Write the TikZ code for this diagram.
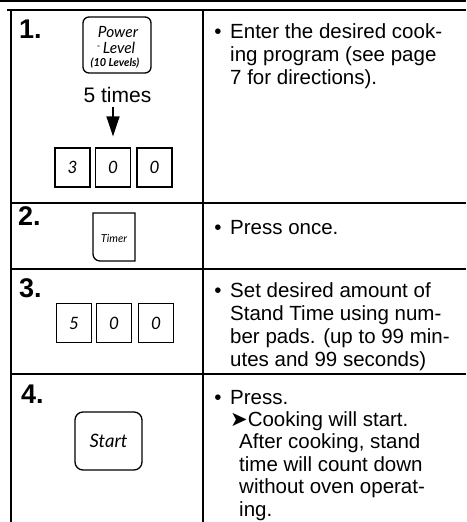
\documentclass[tikz,border=0pt]{standalone}
\usepackage{fontspec}
\setmainfont{Liberation Sans}
\newfontfamily\keyfont{Lato}
\newfontfamily\symfont{DejaVu Sans}
\usetikzlibrary{arrows.meta}
\begin{document}
\begin{tikzpicture}[x=1pt,y=-1pt,
  rule/.style={line width=1.6pt},
  keyline/.style={line width=1.3pt},
  digit/.style={draw, line width=1.2pt, minimum width=35pt, minimum height=39pt, inner sep=0pt, font=\keyfont\itshape\fontsize{17}{17}\selectfont},
  stepnum/.style={anchor=base west, inner sep=0pt, font=\bfseries\fontsize{27}{27}\selectfont},
  body/.style={anchor=base west, inner sep=0pt, align=left, font=\fontsize{20.5}{23.3}\selectfont},
  bul/.style={anchor=base, inner sep=0pt, font=\fontsize{20.5}{23.3}\selectfont},
  keytext/.style={anchor=base, inner sep=0pt, font=\keyfont\itshape\fontsize{15.5}{16}\selectfont},
  downarrow/.style={line width=1.5pt, -{Triangle[width=13pt,length=20pt]}},
]
\useasboundingbox (0,0) rectangle (466,522);
% table rules
\draw[line width=2.2pt] (0,1.2) -- (466,1.2);
\draw[rule] (7,10) -- (466,10);
\draw[rule] (11,10) -- (11,522);
\draw[rule] (203,10) -- (203,522);
\draw[rule] (11,203) -- (466,203);
\draw[rule] (11,269) -- (466,269);
\draw[rule] (11,374) -- (466,374);

% step numbers
\node[stepnum] (n1) at (19,38) {1.};
\node[stepnum] (n2) at (18,225) {2.};
\node[stepnum] (n3) at (19,297) {3.};
\node[stepnum] (n4) at (21,403) {4.};

% step 1 keys
\node[keyline, draw, rounded corners=6pt, minimum width=68pt, minimum height=56pt, inner sep=0pt] (powerkey) at (117,45) {};
\node[keytext] (pw1) at (118,37) {Power};
\node[keytext] (pw2) at (116,53) {\raisebox{4pt}{\fontsize{10}{10}\selectfont -}\,Level};
\node[anchor=base, inner sep=0pt, font=\keyfont\bfseries\itshape\fontsize{11}{11}\selectfont] (pw3) at (115,66) {(10 Levels)};
\node[anchor=base, inner sep=0pt, font=\fontsize{21}{21}\selectfont] (times) at (117.5,102) {5 times};
\node[digit] (d11) at (72.5,167.5) {3};
\node[digit] (d12) at (113,167.5) {0};
\node[digit] (d13) at (154.5,167.5) {0};
\draw[downarrow, shorten <=5pt, shorten >=11pt] (d12.north |- times.south) -- (d12.north);

% step 2 key
\draw[keyline] (135,261) [rounded corners=7pt] -- (93,261) -- (93,240) [sharp corners] -- (93,213) -- (135,213) -- cycle;
\node[anchor=base, inner sep=0pt, font=\keyfont\itshape\fontsize{11}{11}\selectfont] (timerkey) at (114,242) {Timer};

% step 3 keys
\node[digit] (d31) at (74,323) {5};
\node[digit] (d32) at (114,323) {0};
\node[digit] (d33) at (156,323) {0};

% step 4 key
\node[keyline, draw, rounded corners=8pt, minimum width=67pt, minimum height=58pt, inner sep=0pt, font=\keyfont\itshape\fontsize{18.5}{18.5}\selectfont] (startkey) at (108.5,441) {Start};

% right column text (base anchor = last line)
\node[bul] (b1) at (218,38) {•};
\node[body] (t1) at (230,84.6) {Enter the desired cook-\\ing program (see page\\7 for directions).};
\node[bul] (b2) at (218,234) {•};
\node[body] (t2) at (230,234) {Press once.};
\node[bul] (b3) at (218,297) {•};
\node[body] (t3) at (230,366.9) {Set desired amount of\\Stand Time using num-\\ber pads. (up to 99 min-\\utes and 99 seconds)};
\node[bul] (b4) at (218,404) {•};
\node[body, font=\fontsize{20.5}{22.4}\selectfont] (t4) at (230,516) {Press.\\{\symfont\fontsize{21}{21}\selectfont ➤}Cooking will start.\\\hspace*{9pt}After cooking, stand\\\hspace*{9pt}time will count down\\\hspace*{9pt}without oven operat-\\\hspace*{9pt}ing.};
\end{tikzpicture}
\end{document}
